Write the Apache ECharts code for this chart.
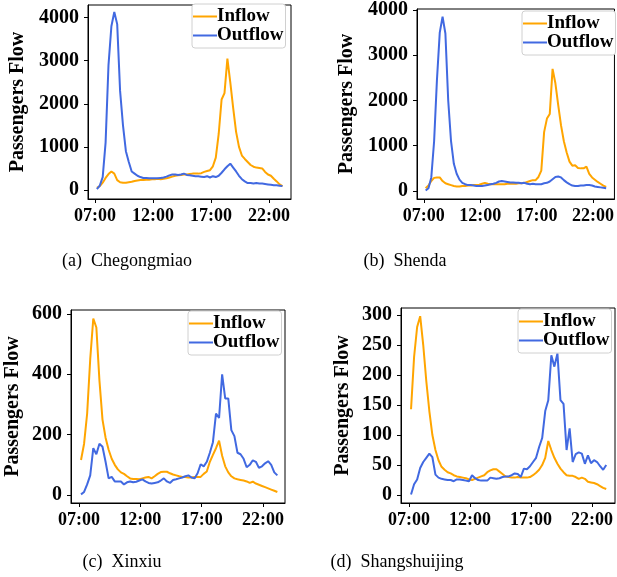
<!DOCTYPE html>
<html><head><meta charset="utf-8">
<script src="https://cdn.jsdelivr.net/npm/echarts@6/dist/echarts.min.js"></script>
<style>html,body{margin:0;padding:0;background:#fff}#c{width:617px;height:577px}</style>
</head><body><div id="c"></div>
<script>
// ---- data ----
const startHour = 7 + 10 / 60;   // first sample 07:10
const stepHour = 0.25;           // 15-minute samples
const tickHours = [7, 12, 17, 22];
const tickLabels = ['07:00', '12:00', '17:00', '22:00'];
const seriesNames = ['Inflow', 'Outflow'];
const captions = ['(a)\u2002Chegongmiao', '(b)\u2002Shenda', '(c)\u2002Xinxiu', '(d)\u2002Shangshuijing'];
const yAxisName = 'Passengers Flow';

const chegongmiaoIn = [50,90,170,280,370,430,380,230,180,170,170,180,190,210,220,230,230,240,240,250,250,260,250,260,270,290,310,330,340,350,360,360,370,380,380,380,390,420,440,460,550,750,1300,2100,2250,3050,2500,1900,1350,1000,800,720,650,580,540,520,510,500,420,360,330,260,200,130,90];
const chegongmiaoOut = [20,100,300,1100,2900,3800,4130,3850,2300,1500,900,650,430,380,330,300,280,280,270,270,270,270,280,290,310,340,360,360,350,360,380,350,340,330,320,320,310,300,320,290,320,300,330,400,480,550,610,520,430,330,250,200,160,160,150,160,150,150,140,130,120,110,110,100,90];
const shendaIn = [60,120,220,290,300,300,220,170,150,130,110,100,100,110,110,120,120,130,130,140,160,180,160,150,150,150,150,150,150,160,160,160,160,170,170,180,200,220,240,240,310,450,1300,1600,1700,2700,2380,1900,1450,1100,850,650,560,570,510,500,500,540,380,300,250,200,160,120,90];
const shendaOut = [10,60,300,1100,2450,3500,3850,3480,2000,1100,600,380,250,180,150,130,130,120,110,110,110,120,130,150,160,180,210,220,210,200,190,190,180,180,170,180,160,150,160,150,150,150,170,180,210,260,310,320,300,240,190,150,120,110,110,120,120,130,130,120,100,90,80,70,60];
const xinxiuIn = [116,170,270,450,585,555,380,250,190,150,120,100,85,75,70,62,55,53,53,52,55,58,60,55,62,70,76,77,77,72,68,65,62,60,60,58,58,60,60,60,70,78,110,133,155,180,130,95,75,62,55,52,50,48,45,40,44,38,34,30,26,22,18,14,10];
const xinxiuOut = [2,10,35,65,155,135,170,160,110,55,60,45,45,45,35,42,45,42,44,48,52,45,40,38,40,42,48,55,45,40,50,52,55,58,62,65,58,55,72,102,95,110,140,175,270,255,400,320,320,215,195,140,135,120,92,100,115,110,90,95,105,112,100,75,65];
const shangshuijingIn = [143,230,280,298,250,190,140,100,75,58,47,42,38,36,33,31,30,29,28,26,25,27,29,31,33,38,41,43,43,39,35,31,30,29,29,30,29,29,29,30,33,37,42,50,62,90,75,62,52,44,38,33,32,32,30,27,29,27,22,21,20,18,15,12,10];
const shangshuijingOut = [1,18,26,45,55,62,69,63,34,29,27,26,25,25,23,26,26,25,24,23,33,28,25,24,24,24,29,28,27,28,30,31,31,33,36,35,30,44,43,48,55,62,80,95,140,158,233,214,236,158,152,75,111,55,68,71,69,52,66,53,58,55,48,42,50];

const yTicksA = [0, 1000, 2000, 3000, 4000];
const yTicksB = [0, 1000, 2000, 3000, 4000];
const yTicksC = [0, 200, 400, 600];
const yTicksD = [0, 50, 100, 150, 200, 250, 300];

// ---- layout ----
const FONT = '"Liberation Serif", "Times New Roman", serif';
const COLORS = ['#FFA500', '#4169E1'];
const panels = [
  { inflow: chegongmiaoIn, outflow: chegongmiaoOut, yTicks: yTicksA,
    grid: { left: 88, top: 5, width: 203, height: 194 }, x: [6.4, 23.9], y: [-209, 4294],
    nameGap: 60, legend: { left: 192, top: 4 }, cap: [127, 261] },
  { inflow: shendaIn, outflow: shendaOut, yTicks: yTicksB,
    grid: { left: 417, top: 9, width: 203, height: 190 }, x: [6.4, 23.9], y: [-177, 4022],
    nameGap: 60, legend: { left: 522, top: 11 }, cap: [405, 261] },
  { inflow: xinxiuIn, outflow: xinxiuOut, yTicks: yTicksC,
    grid: { left: 71, top: 310, width: 214, height: 193 }, x: [6.35, 23.79], y: [-26.5, 613],
    nameGap: 48, legend: { left: 188, top: 311 }, cap: [122, 562] },
  { inflow: shangshuijingIn, outflow: shangshuijingOut, yTicks: yTicksD,
    grid: { left: 401, top: 308, width: 214, height: 195 }, x: [6.344, 23.886], y: [-13.3, 311.7],
    nameGap: 48, legend: { left: 518, top: 309 }, cap: [397, 562] }
];

const toPairs = vals => vals.map((v, k) => [startHour + k * stepHour, v]);

const option = {
  animation: false,
  backgroundColor: '#fff',
  grid: panels.map(p => Object.assign({ show: true, borderColor: '#000', borderWidth: 1, backgroundColor: 'transparent' }, p.grid)),
  xAxis: panels.map((p, i) => ({
    type: 'value', gridIndex: i, min: p.x[0], max: p.x[1],
    axisLine: { show: true, onZero: false, lineStyle: { color: '#000', width: 1 } },
    axisTick: { show: true, customValues: tickHours, length: 4, lineStyle: { color: '#000' } },
    axisLabel: { customValues: tickHours, formatter: v => tickLabels[tickHours.indexOf(v)],
      color: '#000', fontFamily: FONT, fontWeight: 'bold', fontSize: 18, margin: 8 },
    splitLine: { show: false }
  })),
  yAxis: panels.map((p, i) => ({
    type: 'value', gridIndex: i, min: p.y[0], max: p.y[1],
    name: yAxisName, nameLocation: 'middle', nameGap: p.nameGap,
    nameTextStyle: { fontFamily: FONT, fontWeight: 'bold', fontSize: 20, color: '#000' },
    axisLine: { show: true, onZero: false, lineStyle: { color: '#000', width: 1 } },
    axisTick: { show: true, customValues: p.yTicks, length: 4, lineStyle: { color: '#000' } },
    axisLabel: { customValues: p.yTicks, formatter: v => String(v), color: '#000', fontFamily: FONT,
      fontWeight: 'bold', fontSize: 20, margin: 9 },
    splitLine: { show: false }
  })),
  legend: panels.map(p => ({
    data: seriesNames, left: p.legend.left, top: p.legend.top, orient: 'vertical',
    icon: 'rect', itemWidth: 24, itemHeight: 2, itemGap: 0, padding: [3, 2, 3, 1],
    borderColor: '#d0d0d0', borderWidth: 1, borderRadius: 3, backgroundColor: '#fff',
    selectedMode: false,
    textStyle: { fontFamily: FONT, fontWeight: 'bold', fontSize: 19, lineHeight: 18, color: '#000', padding: [0, 0, 0, -5] }
  })),
  series: panels.flatMap((p, i) => [
    { name: seriesNames[0], type: 'line', xAxisIndex: i, yAxisIndex: i, data: toPairs(p.inflow),
      showSymbol: false, color: COLORS[0], lineStyle: { width: 2, color: COLORS[0] } },
    { name: seriesNames[1], type: 'line', xAxisIndex: i, yAxisIndex: i, data: toPairs(p.outflow),
      showSymbol: false, color: COLORS[1], lineStyle: { width: 2, color: COLORS[1] } }
  ]),
  graphic: panels.map((p, i) => ({
    type: 'text', x: p.cap[0], y: p.cap[1],
    style: { text: captions[i], fontFamily: FONT, fontSize: 18, fill: '#000',
      align: 'center', verticalAlign: 'middle', textAlign: 'center', textVerticalAlign: 'middle' }
  }))
};

const chart = echarts.init(document.getElementById('c'), null, { renderer: 'canvas' });
chart.setOption(option);
</script>
</body></html>
